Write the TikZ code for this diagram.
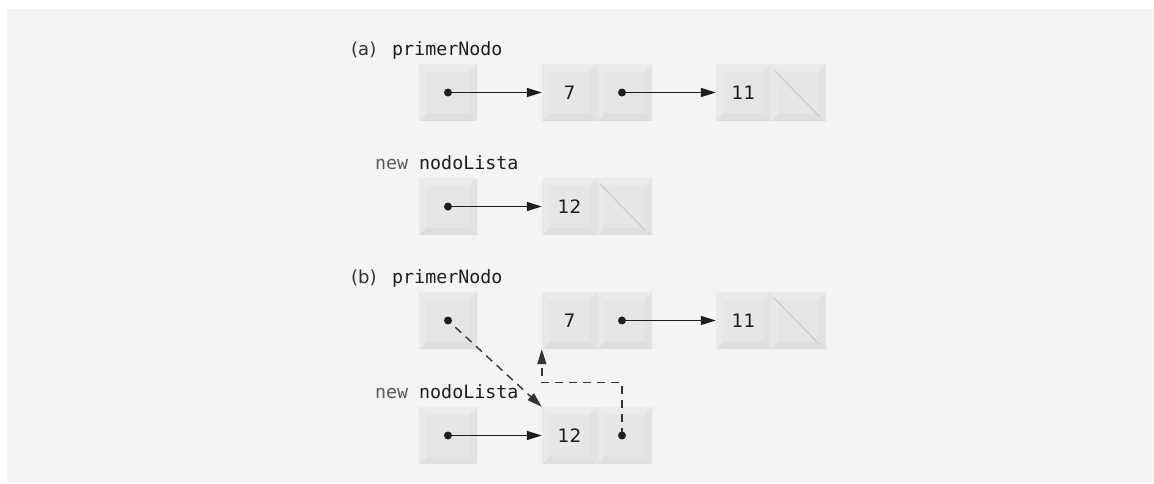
\documentclass[tikz,border=0pt]{standalone}
\usepackage{fontspec}
\setmainfont{DejaVu Sans}
\setmonofont{DejaVu Sans Mono}
\usetikzlibrary{arrows.meta}
\definecolor{bg}{HTML}{F4F4F4}
\definecolor{face}{HTML}{E6E6E7}
\definecolor{bvtop}{HTML}{EBEBEC}
\definecolor{bvleft}{HTML}{E9E9EA}
\definecolor{bvright}{HTML}{E2E2E3}
\definecolor{bvbot}{HTML}{DEDEDF}
\definecolor{txt}{HTML}{1E1E1E}
\definecolor{lbl}{HTML}{333333}
\definecolor{kw}{HTML}{5A5A5A}
\definecolor{nullc}{HTML}{CBCBCC}
\newcommand{\pbb}{path picture bounding box}
\newcommand{\bv}{7.5pt}
\tikzset{
  cellbox/.style={rectangle, inner sep=0pt, minimum width=55pt, minimum height=57pt,
    fill=face, text=txt, font=\fontsize{18.5}{20}\selectfont,
    path picture={
      \fill[bvtop] (\pbb.north west) -- (\pbb.north east) -- ([shift={(-\bv,-\bv)}]\pbb.north east) -- ([shift={(\bv,-\bv)}]\pbb.north west) -- cycle;
      \fill[bvbot] (\pbb.south west) -- (\pbb.south east) -- ([shift={(-\bv,\bv)}]\pbb.south east) -- ([shift={(\bv,\bv)}]\pbb.south west) -- cycle;
      \fill[bvleft] (\pbb.north west) -- (\pbb.south west) -- ([shift={(\bv,\bv)}]\pbb.south west) -- ([shift={(\bv,-\bv)}]\pbb.north west) -- cycle;
      \fill[bvright] (\pbb.north east) -- (\pbb.south east) -- ([shift={(-\bv,\bv)}]\pbb.south east) -- ([shift={(-\bv,-\bv)}]\pbb.north east) -- cycle;
    }},
  ptrbox/.style={cellbox, minimum width=58pt},
  lab/.style={anchor=base west, inner sep=0pt, text=lbl, font=\fontsize{18}{20}\selectfont},
  code/.style={anchor=base west, inner sep=0pt, text=txt, font=\ttfamily\fontsize{18.3}{20}\selectfont},
  kwd/.style={code, text=kw},
  ptr/.style={draw=txt, line width=1.3pt, -{Triangle[length=15pt,width=9pt]}},
  dptr/.style={draw=lbl, line width=1.4pt, dash pattern=on 8pt off 6pt, -{Triangle[length=15pt,width=9pt]}},
  nullline/.style={draw=nullc, line width=1.3pt},
  dotc/.style={fill=txt}
}
\begin{document}
\begin{tikzpicture}[x=1pt,y=-1pt]
\useasboundingbox (0,0) rectangle (1154,483);
\fill[white] (0,0) rectangle (1154,483);
\fill[bg] (7,9) rectangle (1154,483);

% ---------- (a) ----------
\node[lab] (la) at (351,55) {(a)};
\node[code] (pna) at (392,55) {primerNodo};
\node[ptrbox] (pa) at (448,92.5) {};
\node[cellbox] (n7a) at (569.5,92.5) {7};
\node[cellbox] (n7ap) at (624.5,92.5) {};
\node[cellbox] (n11a) at (743.5,92.5) {11};
\node[cellbox] (n11ap) at (798.5,92.5) {};

\node[kwd] (newa) at (375,169) {new};
\node[code] (nla) at (419,169) {nodoLista};
\node[ptrbox] (qa) at (448,206.5) {};
\node[cellbox] (n12a) at (569.5,206.5) {12};
\node[cellbox] (n12ap) at (624.5,206.5) {};

% ---------- (b) ----------
\node[lab] (lb) at (351,283) {(b)};
\node[code] (pnb) at (392,283) {primerNodo};
\node[ptrbox] (pb) at (448,320.5) {};
\node[cellbox] (n7b) at (569.5,320.5) {7};
\node[cellbox] (n7bp) at (624.5,320.5) {};
\node[cellbox] (n11b) at (743.5,320.5) {11};
\node[cellbox] (n11bp) at (798.5,320.5) {};

\node[kwd] (newb) at (375,398) {new};
\node[code] (nlb) at (419,398) {nodoLista};
\node[ptrbox] (qb) at (448,435.5) {};
\node[cellbox] (n12b) at (569.5,435.5) {12};
\node[cellbox] (n12bp) at (624.5,435.5) {};

% null diagonals
\draw[nullline] ([shift={(3pt,-6pt)}]n11ap.north west) -- ([shift={(-7pt,5pt)}]n11ap.south east);
\draw[nullline] ([shift={(3pt,-6pt)}]n12ap.north west) -- ([shift={(-7pt,5pt)}]n12ap.south east);
\draw[nullline] ([shift={(3pt,-6pt)}]n11bp.north west) -- ([shift={(-7pt,5pt)}]n11bp.south east);

% dot coordinates
\coordinate (dpa) at (pa.center);
\coordinate (d7a) at ([xshift=-2.5pt]n7ap.center);
\coordinate (dqa) at (qa.center);
\coordinate (dpb) at (pb.center);
\coordinate (d7b) at ([xshift=-2.5pt]n7bp.center);
\coordinate (dqb) at (qb.center);
\coordinate (d12b) at ([xshift=-2.5pt]n12bp.center);

% connectors (a)
\draw[ptr] (dpa) -- (n7a.west);
\draw[ptr] (d7a) -- (n11a.west);
\draw[ptr] (dqa) -- (n12a.west);
% connectors (b)
\draw[ptr] (d7b) -- (n11b.west);
\draw[ptr] (dqb) -- (n12b.west);
\draw[dptr, shorten <=10pt] (dpb) -- (n12b.north west);
\draw[dptr] (d12b) |- ([yshift=-33pt]n7b.south west) -- (n7b.south west);

% dots
\foreach \d in {dpa,d7a,dqa,dpb,d7b,dqb,d12b}
  \fill[dotc] (\d) circle[radius=4pt];
\end{tikzpicture}
\end{document}
